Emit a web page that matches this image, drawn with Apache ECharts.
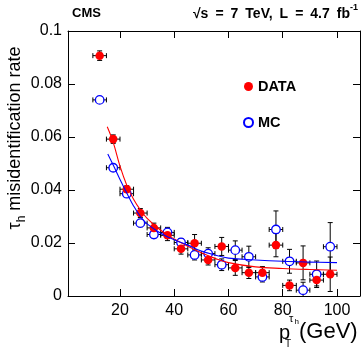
<!DOCTYPE html>
<html><head><meta charset="utf-8">
<script src="https://cdn.jsdelivr.net/npm/echarts@6/dist/echarts.min.js"></script>
<style>html,body{margin:0;padding:0;background:#fff}#c{width:362px;height:348px}</style>
</head><body><div id="c"></div>
<script>
// bin centres (GeV) and half-width
const ptCenters = [12.5,17.5,22.5,27.5,32.5,37.5,42.5,47.5,52.5,57.5,62.5,67.5,72.5,77.5,82.5,87.5,92.5,97.5];
const ptHalfWidth = 2.5;
// DATA
const dataRate = [0.0907,0.0592,0.0403,0.0313,0.0257,0.0229,0.0178,0.0199,0.0136,0.0187,0.0106,0.0088,0.0088,0.0192,0.0040,0.0125,0.0060,0.0082];
const dataErr  = [0.0018,0.0016,0.0013,0.0017,0.0018,0.0020,0.0020,0.0033,0.0019,0.0034,0.0028,0.0022,0.0023,0.0044,0.0020,0.0064,0.0022,0.0065];
// MC
const mcRate = [0.0740,0.0484,0.0386,0.0275,0.0232,0.0240,0.0202,0.0155,0.0160,0.0118,0.0173,0.0148,0.0072,0.0251,0.0131,0.0022,0.0082,0.0186];
const mcErr  = [0.0012,0.0012,0.0012,0.0014,0.0013,0.0019,0.0015,0.0019,0.0022,0.0022,0.0035,0.0040,0.0019,0.0070,0.0045,0.0030,0.0050,0.0091];
// fit curves
const dataFitX = [15.3,17.5,20,22.5,25,27.5,30,35,40,45,50,55,60,70,80,90,100];
const dataFitY = [0.0639,0.0580,0.0490,0.0418,0.0365,0.0325,0.0293,0.0248,0.0215,0.0188,0.0163,0.0142,0.0126,0.0110,0.0104,0.0100,0.0097];
const mcFitX = [15.5,17.5,20,22.5,25,27.5,30,35,40,45,50,55,60,70,80,90,100];
const mcFitY = [0.0536,0.0494,0.0440,0.0389,0.0340,0.0300,0.0272,0.0237,0.0212,0.0192,0.0170,0.0155,0.0143,0.0136,0.0131,0.0128,0.0126];
// axis ticks
const xTicks = [20,40,60,80,100];
const xMin = 0.83, xMax = 108.48;

const RED = '#ff0000', BLUE = '#0000ff';
const FONT = 'Liberation Sans, Arial, sans-serif';

function errItem(params, api){
  const x=api.value(0), y=api.value(1), ex=api.value(2), ey=api.value(3);
  const l=api.coord([x-ex,y]), r=api.coord([x+ex,y]);
  const t=api.coord([x,y+ey]), b=api.coord([x,y-ey]);
  const cap=2.5;
  const st={stroke:'#000', lineWidth:1};
  const mk=(x1,y1,x2,y2)=>({type:'line', shape:{x1,y1,x2,y2}, style:st});
  return {type:'group', children:[
    mk(l[0],l[1],r[0],r[1]),
    mk(t[0],t[1],b[0],b[1]),
    mk(l[0],l[1]-cap,l[0],l[1]+cap),
    mk(r[0],r[1]-cap,r[0],r[1]+cap),
    mk(t[0]-cap,t[1],t[0]+cap,t[1]),
    mk(b[0]-cap,b[1],b[0]+cap,b[1])
  ]};
}

const chart = echarts.init(document.getElementById('c'), null, {renderer:'canvas'});
const axisCommon = {
  axisLine:{show:true, onZero:false, lineStyle:{color:'#000', width:1}},
  splitLine:{show:false}
};
chart.setOption({
  animation:false,
  grid:{left:68, right:2, top:31, bottom:52, containLabel:false},
  xAxis:[
    Object.assign({type:'value', min:xMin, max:xMax, position:'bottom',
      axisTick:{inside:true, length:7, customValues:xTicks, lineStyle:{color:'#000'}},
      axisLabel:{customValues:xTicks, color:'#000', fontSize:16, fontFamily:FONT, margin:7}
    }, axisCommon),
    Object.assign({type:'value', min:xMin, max:xMax, position:'top',
      axisTick:{inside:true, length:7, customValues:xTicks, lineStyle:{color:'#000'}},
      axisLabel:{show:false}
    }, axisCommon)
  ],
  yAxis:[
    Object.assign({type:'value', min:0, max:0.1, interval:0.02, position:'left',
      axisTick:{inside:true, length:7, lineStyle:{color:'#000'}},
      axisLabel:{color:'#000', fontSize:16, fontFamily:FONT, margin:6,
        formatter:v=>{const s=+v.toFixed(2); return s===0?'0':String(s);}}
    }, axisCommon),
    Object.assign({type:'value', min:0, max:0.1, interval:0.02, position:'right',
      axisTick:{inside:true, length:7, lineStyle:{color:'#000'}},
      axisLabel:{show:false}
    }, axisCommon)
  ],
  legend:{
    orient:'vertical', left:243, top:79, padding:0, itemWidth:9, itemHeight:9, itemGap:21,
    data:['DATA','MC'],
    textStyle:{fontSize:14.5, fontWeight:'bold', fontFamily:FONT, color:'#000'}
  },
  series:[
    {type:'custom', name:'dataErr', renderItem:errItem, clip:true, z:1,
      data:ptCenters.map((x,i)=>[x,dataRate[i],ptHalfWidth,dataErr[i]])},
    {type:'custom', name:'mcErr', renderItem:errItem, clip:true, z:1,
      data:ptCenters.map((x,i)=>[x,mcRate[i],ptHalfWidth,mcErr[i]])},
    {type:'scatter', name:'MC', symbol:'circle', symbolSize:8.5, z:2,
      itemStyle:{color:'#fff', borderColor:BLUE, borderWidth:1.3, opacity:1},
      data:ptCenters.map((x,i)=>[x,mcRate[i]])},
    {type:'scatter', name:'DATA', symbol:'circle', symbolSize:8.5, z:3,
      itemStyle:{color:RED, opacity:1},
      data:ptCenters.map((x,i)=>[x,dataRate[i]])},
    {type:'line', name:'dataFit', smooth:0.4, showSymbol:false, z:4,
      lineStyle:{color:RED, width:1.1},
      data:dataFitX.map((x,i)=>[x,dataFitY[i]])},
    {type:'line', name:'mcFit', smooth:0.4, showSymbol:false, z:4,
      lineStyle:{color:BLUE, width:1.1},
      data:mcFitX.map((x,i)=>[x,mcFitY[i]])}
  ],
  graphic:[
    {type:'text', left:72, top:7, style:{text:'CMS', font:'bold 13px '+FONT, fill:'#000'}},
    {type:'text', right:4, top:3, style:{
      text:'{a|√s\u2002=\u20027\u2002TeV,\u2002L\u2002=\u20024.7\u2002fb}{b|-1}',
      rich:{a:{font:'bold 14px '+FONT, fill:'#000', color:'#000', padding:[4,0,0,0]},
            b:{font:'bold 9px '+FONT, fill:'#000', color:'#000', verticalAlign:'top'}}
    }},
    {type:'text', x:15, y:138, rotation:Math.PI/2, style:{
      text:'{t|τ}{s|h}{t| misidentification rate}', align:'center', verticalAlign:'middle',
      rich:{t:{font:'18px '+FONT, fill:'#000', color:'#000', lineHeight:26, verticalAlign:'middle'},
            s:{font:'12px '+FONT, fill:'#000', color:'#000', lineHeight:13, verticalAlign:'bottom'}}
    }},
    {type:'text', left:279, top:323, style:{text:'p', font:'20px '+FONT, fill:'#000'}},
    {type:'text', left:285, top:339, style:{text:'T', font:'10px '+FONT, fill:'#000'}},
    {type:'text', left:289, top:313, style:{text:'τ', font:'11px '+FONT, fill:'#000'}},
    {type:'text', left:294.5, top:317.5, style:{text:'h', font:'8px '+FONT, fill:'#000'}},
    {type:'text', left:299, top:321, style:{text:'(GeV)', font:'22px '+FONT, fill:'#000'}}
  ]
});
</script></body></html>
